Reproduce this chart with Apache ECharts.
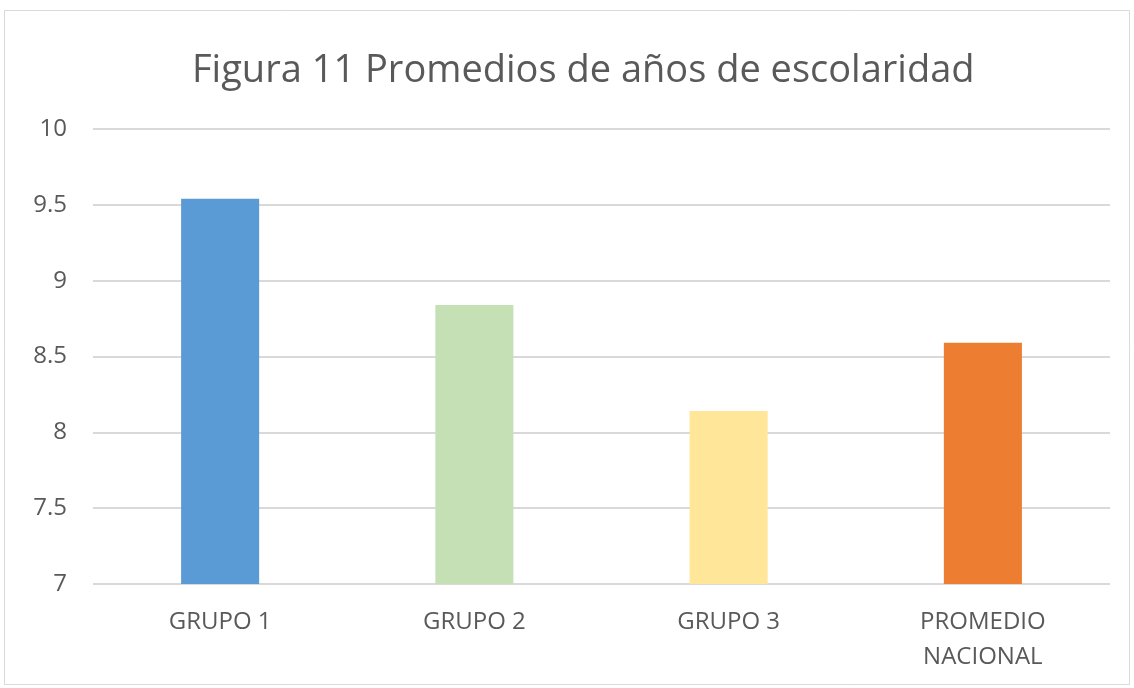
<!DOCTYPE html>
<html><head><meta charset="utf-8">
<script src="https://cdn.jsdelivr.net/npm/echarts@6/dist/echarts.min.js"></script>
<style>html,body{margin:0;padding:0;background:#fff}#c{width:1134px;height:688px}</style>
</head><body><div id="c"></div>
<script>
const titleText = 'Figura 11 Promedios de años de escolaridad';
const categories = ['GRUPO 1', 'GRUPO 2', 'GRUPO 3', 'PROMEDIO\nNACIONAL'];
const values = [9.54, 8.84, 8.14, 8.59];
const barColors = ['#5B9BD5', '#C5E0B4', '#FFE699', '#ED7D31'];
const yMin = 7, yMax = 10, yStep = 0.5;

const chart = echarts.init(document.getElementById('c'), null, {renderer: 'canvas'});
chart.setOption({
  animation: false,
  backgroundColor: '#fff',
  graphic: [{type: 'rect', shape: {x: 4.5, y: 10.5, width: 1125, height: 674},
    style: {fill: 'none', stroke: '#d9d9d9', lineWidth: 1}, silent: true}],
  title: {text: titleText, left: 187, top: 47,
    textStyle: {fontFamily: 'Open Sans', fontWeight: 'normal', fontSize: 38, color: '#595959'}},
  grid: {left: 93, right: 24, top: 129, bottom: 104, containLabel: false},
  xAxis: {type: 'category', data: categories,
    axisLine: {show: false}, axisTick: {show: false},
    axisLabel: {color: '#595959', fontFamily: 'Open Sans', fontSize: 24, margin: 21, lineHeight: 35}},
  yAxis: {type: 'value', min: yMin, max: yMax, interval: yStep,
    axisLine: {show: false}, axisTick: {show: false},
    splitLine: {lineStyle: {color: '#d9d9d9', width: 2}},
    axisLabel: {color: '#595959', fontFamily: 'Open Sans', fontSize: 24, margin: 26}},
  series: [{type: 'bar', data: values.map((v, i) => ({value: v, itemStyle: {color: barColors[i]}})),
    barWidth: '30.7%'}]
});
</script></body></html>
